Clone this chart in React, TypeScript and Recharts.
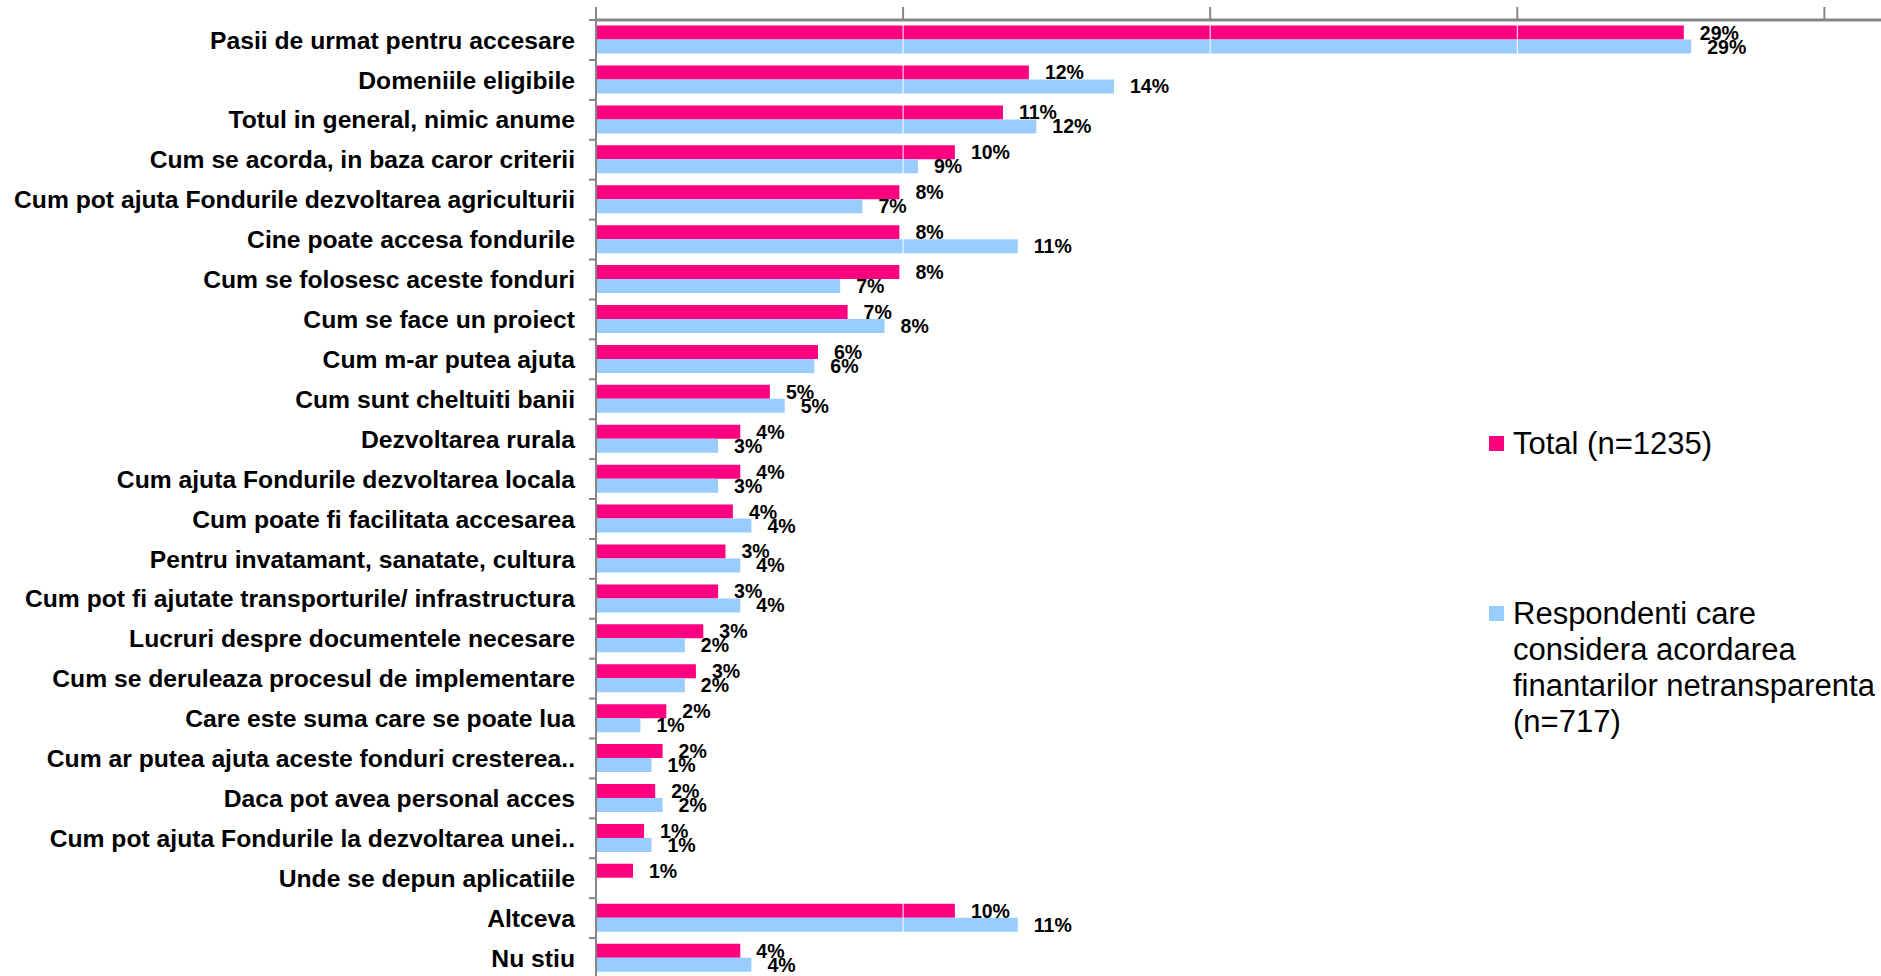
import { BarChart, Bar, XAxis, YAxis, LabelList, Legend, ReferenceLine } from 'recharts'

const categories = [
  'Pasii de urmat pentru accesare',
  'Domeniile eligibile',
  'Totul in general, nimic anume',
  'Cum se acorda, in baza caror criterii',
  'Cum pot ajuta Fondurile dezvoltarea agriculturii',
  'Cine poate accesa fondurile',
  'Cum se folosesc aceste fonduri',
  'Cum se face un proiect',
  'Cum m-ar putea ajuta',
  'Cum sunt cheltuiti banii',
  'Dezvoltarea rurala',
  'Cum ajuta Fondurile dezvoltarea locala',
  'Cum poate fi facilitata accesarea',
  'Pentru invatamant, sanatate, cultura',
  'Cum pot fi ajutate transporturile/ infrastructura',
  'Lucruri despre documentele necesare',
  'Cum se deruleaza procesul de implementare',
  'Care este suma care se poate lua',
  'Cum ar putea ajuta aceste fonduri cresterea..',
  'Daca pot avea personal acces',
  'Cum pot ajuta Fondurile la dezvoltarea unei..',
  'Unde se depun aplicatiile',
  'Altceva',
  'Nu stiu',
]

// bar lengths (%)
const totalValues = [29.4, 11.7, 11.0, 9.7, 8.2, 8.2, 8.2, 6.8, 6.0, 4.7, 3.9, 3.9, 3.7, 3.5, 3.3, 2.9, 2.7, 1.9, 1.8, 1.6, 1.3, 1.0, 9.7, 3.9]
const respValues = [29.6, 14.0, 11.9, 8.7, 7.2, 11.4, 6.6, 7.8, 5.9, 5.1, 3.3, 3.3, 4.2, 3.9, 3.9, 2.4, 2.4, 1.2, 1.5, 1.8, 1.5, null, 11.4, 4.2]

// printed labels
const totalLabels = [29, 12, 11, 10, 8, 8, 8, 7, 6, 5, 4, 4, 4, 3, 3, 3, 3, 2, 2, 2, 1, 1, 10, 4]
const respLabels = [29, 14, 12, 9, 7, 11, 7, 8, 6, 5, 3, 3, 4, 4, 4, 2, 2, 1, 1, 2, 1, null, 11, 4]

const seriesNames = ['Total (n=1235)', 'Respondenti care\nconsidera acordarea\nfinantarilor netransparenta\n(n=717)']

const gridTicks = [0, 8.3, 16.6, 24.9, 33.2]

const data = categories.map((name, i) => ({
  name,
  total: totalValues[i],
  resp: respValues[i],
  totalLabel: totalLabels[i],
  respLabel: respLabels[i],
}))

const FONT = '"Liberation Sans", Arial, sans-serif'
const PINK = '#FF0080'
const BLUE = '#99CCFF'
const AXIS = '#868686'
const TICK_GAP = 21

const fmtPct = (v: any) => (v === null || v === undefined ? '' : `${v}%`)

// category label plus a small tick mark on each band boundary
const CategoryTick = (props: any) => {
  const { x, y, payload, index } = props
  const half = payload.offset || 0
  const axisX = x + TICK_GAP
  return (
    <g>
      <line x1={axisX - 7} x2={axisX} y1={y - half} y2={y - half} stroke={AXIS} strokeWidth={2} />
      {index === categories.length - 1 && (
        <line x1={axisX - 7} x2={axisX} y1={y + half} y2={y + half} stroke={AXIS} strokeWidth={2} />
      )}
      <text
        x={x}
        y={y}
        dy="0.35em"
        textAnchor="end"
        fontFamily={FONT}
        fontSize={24.7}
        fontWeight="bold"
        fill="#000"
      >
        {payload.value}
      </text>
    </g>
  )
}

const renderLegend = (props: any) => {
  const items = [...(props.payload || [])].sort(
    (a: any, b: any) => seriesNames.indexOf(a.value) - seriesNames.indexOf(b.value)
  )
  return (
    <div style={{ fontFamily: FONT, fontSize: 31, color: '#000' }}>
      {items.map((entry: any, i: number) => (
        <div
          key={i}
          style={{
            position: 'relative',
            paddingLeft: 24,
            lineHeight: '36px',
            height: i === 0 ? 170 : 'auto',
            whiteSpace: 'pre',
          }}
        >
          <span
            style={{
              position: 'absolute',
              left: 0,
              top: 10,
              width: 15,
              height: 15,
              background: entry.color,
            }}
          />
          {entry.value}
        </div>
      ))}
    </div>
  )
}

export default function App() {
  return (
    <div style={{ position: 'absolute', left: 0, top: 0, width: 1881, height: 976, overflow: 'hidden', background: '#fff' }}>
      <BarChart
        width={1881}
        height={978}
        data={data}
        layout="vertical"
        margin={{ top: 0, right: 0, bottom: 0, left: 0 }}
        barCategoryGap="14%"
        barGap={0}
      >
        <XAxis
          type="number"
          orientation="top"
          domain={[0, 34.73]}
          ticks={gridTicks}
          height={20}
          tickSize={13}
          tickFormatter={() => ''}
          axisLine={{ stroke: AXIS, strokeWidth: 3 }}
          tickLine={{ stroke: AXIS, strokeWidth: 2 }}
          allowDataOverflow
        />
        <YAxis
          type="category"
          dataKey="name"
          width={596}
          interval={0}
          axisLine={{ stroke: AXIS, strokeWidth: 2 }}
          tickLine={false}
          tickSize={TICK_GAP}
          tickMargin={0}
          tick={<CategoryTick />}
        />
        <Legend
          content={renderLegend}
          layout="horizontal"
          verticalAlign="middle"
          align="center"
          wrapperStyle={{ left: 1489, top: 426, width: 392 }}
        />
        <Bar dataKey="total" name={seriesNames[0]} fill={PINK} isAnimationActive={false}>
          <LabelList
            dataKey="totalLabel"
            position="right"
            offset={16}
            formatter={fmtPct}
            style={{ fontFamily: FONT, fontSize: 19.5, fontWeight: 'bold', fill: '#000' }}
          />
        </Bar>
        <Bar dataKey="resp" name={seriesNames[1]} fill={BLUE} isAnimationActive={false}>
          <LabelList
            dataKey="respLabel"
            position="right"
            offset={16}
            formatter={fmtPct}
            style={{ fontFamily: FONT, fontSize: 19.5, fontWeight: 'bold', fill: '#000' }}
          />
        </Bar>
        {gridTicks.slice(1).map((t) => (
          <ReferenceLine key={t} x={t} stroke="#ffffff" strokeWidth={1} />
        ))}
      </BarChart>
    </div>
  )
}
